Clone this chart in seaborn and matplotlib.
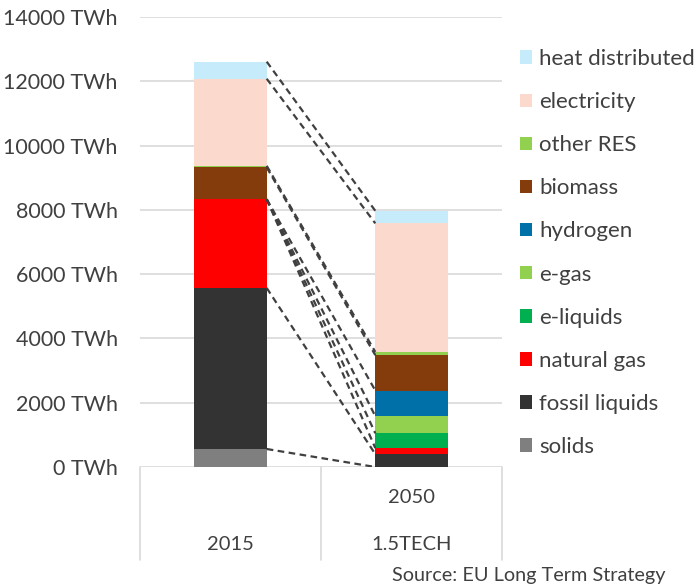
import matplotlib
matplotlib.use("Agg")
import matplotlib.pyplot as plt
import matplotlib.transforms as mtransforms
import numpy as np
import pandas as pd
import seaborn as sns

# ---- data ----
scenarios = ["2015", "2050"]
sources = ["solids", "fossil liquids", "natural gas", "e-liquids", "e-gas",
           "hydrogen", "biomass", "other RES", "electricity", "heat distributed"]
solids = [560, 0]
fossil_liquids = [5010, 400]
natural_gas = [2760, 190]
e_liquids = [0, 460]
e_gas = [0, 530]
hydrogen = [0, 800]
biomass = [990, 1100]
other_res = [50, 100]
electricity = [2710, 4000]
heat_distributed = [530, 390]
yticks = [0, 2000, 4000, 6000, 8000, 10000, 12000, 14000]

colors = ["#7F7F7F", "#333333", "#FF0000", "#00B050", "#92D050",
          "#0070A8", "#843C0C", "#92D050", "#FBD9CD", "#C6ECFB"]

values = [solids, fossil_liquids, natural_gas, e_liquids, e_gas, hydrogen,
          biomass, other_res, electricity, heat_distributed]

sns.set_theme(style="white")
plt.rcParams["font.family"] = ["Lato", "DejaVu Sans"]

fig = plt.figure(figsize=(6.96, 5.88), dpi=100)
ax = fig.add_axes([140 / 696, 1 - 467 / 588, (502 - 140) / 696, (467 - 17) / 588])

bottoms = np.zeros(len(scenarios))
tops = []
for name, vals, col in zip(sources, values, colors):
    df = pd.DataFrame({"scenario": scenarios, "value": vals})
    sns.barplot(data=df, x="scenario", y="value", color=col, width=0.4,
                bottom=bottoms.copy(), errorbar=None, ax=ax, label=name,
                saturation=1, edgecolor="none", linewidth=0, zorder=3)
    bottoms = bottoms + np.array(vals, dtype=float)
    tops.append(bottoms.copy())

handles, labels = ax.get_legend_handles_labels()
if ax.get_legend() is not None:
    ax.get_legend().remove()

# connecting dashed lines
for t in tops:
    ax.plot([0.2, 0.8], [t[0], t[1]], linestyle=(0, (3, 2)), color="#404040",
            linewidth=1.6, zorder=4)

ax.set_ylim(0, 14000)
ax.set_xlim(-0.5, 1.5)
ax.set_yticks(yticks)
ax.set_yticklabels([f"{v} TWh" for v in yticks], fontsize=15.5, color="#404040")
ax.tick_params(axis="y", length=0, pad=16)
ax.set_xticks([])
ax.set_xlabel("")
ax.set_ylabel("")
ax.grid(axis="y", color="#D9D9D9", linewidth=1.2, zorder=0)
for s in ax.spines.values():
    s.set_visible(False)

# category axis box
trans = mtransforms.blended_transform_factory(ax.transData, ax.transAxes)
for xv in [-0.5, 0.5, 1.5]:
    ax.plot([xv, xv], [0, -0.207], transform=trans, color="#D9D9D9",
            linewidth=1.2, clip_on=False)
ax.text(0, -0.173, "2015", transform=trans, ha="center", va="center",
        fontsize=14.5, color="#404040")
ax.text(1, -0.067, "2050", transform=trans, ha="center", va="center",
        fontsize=14.5, color="#404040")
ax.text(1, -0.173, "1.5TECH", transform=trans, ha="center", va="center",
        fontsize=14.5, color="#404040")

leg = fig.legend(handles[::-1], labels[::-1], loc="center left",
                 bbox_to_anchor=(509 / 696, 1 - 253 / 588), frameon=False,
                 fontsize=16, handlelength=0.55, handleheight=0.55,
                 handletextpad=0.3, labelspacing=1.04, borderpad=0)
for t in leg.get_texts():
    t.set_color("#404040")

fig.text(665 / 696, 1 - 576 / 588, "Source: EU Long Term Strategy",
         ha="right", va="center", fontsize=14.3, color="#404040")

fig.savefig("out.png", dpi=100)
